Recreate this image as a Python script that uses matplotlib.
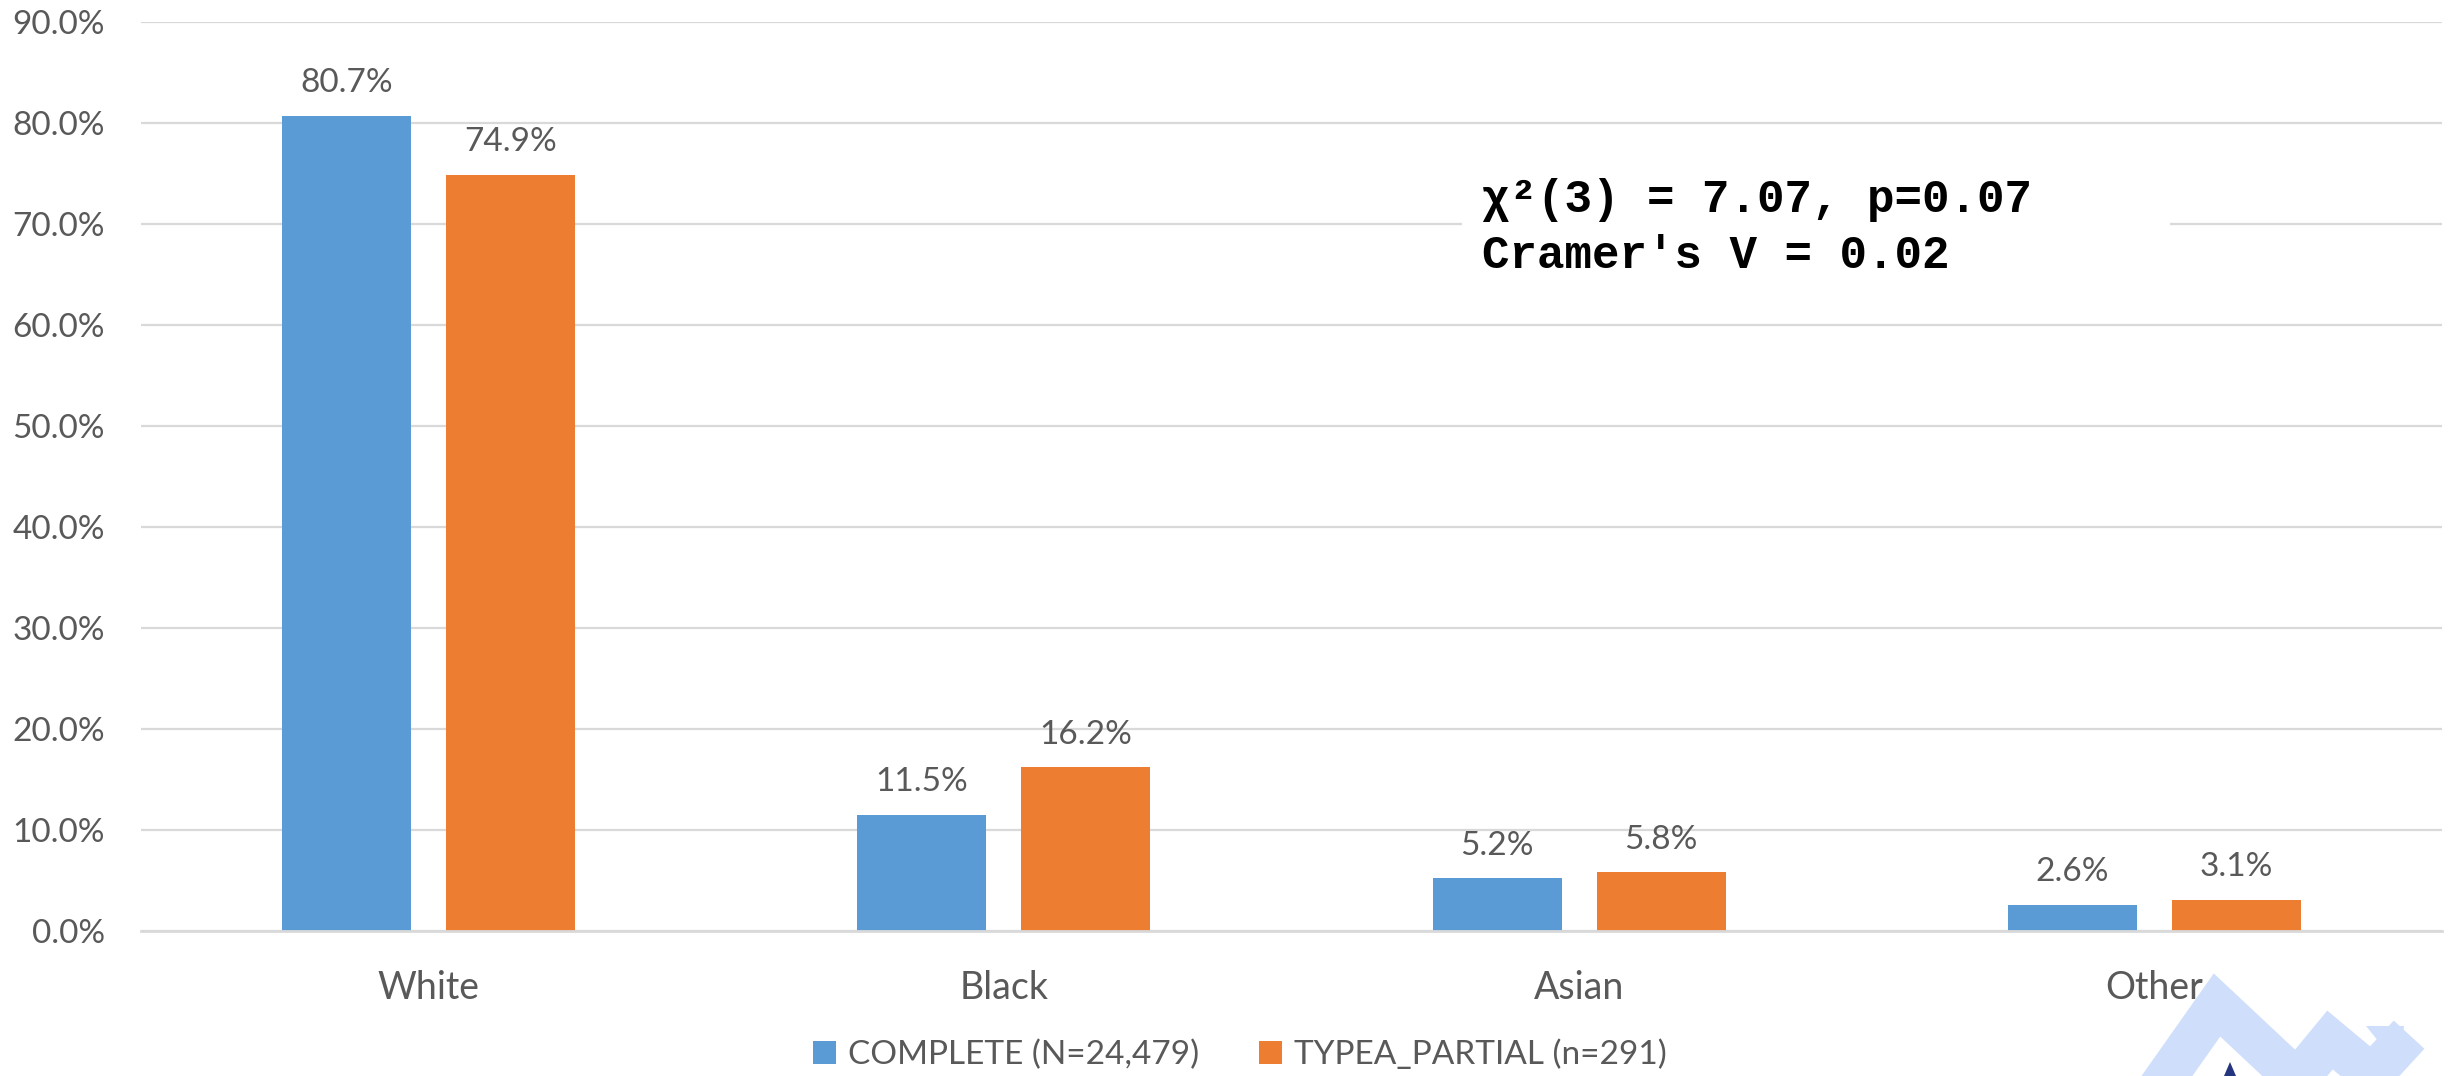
import numpy as np
import matplotlib
matplotlib.use("Agg")
import matplotlib.pyplot as plt
from matplotlib.patches import Rectangle, Polygon
from matplotlib.lines import Line2D

# dados
categorias = ["White", "Black", "Asian", "Other"]
complete = [80.7, 11.5, 5.2, 2.6]
typea_partial = [74.9, 16.2, 5.8, 3.1]
rotulos_series = ["COMPLETE (N=24,479)", "TYPEA_PARTIAL (n=291)"]
texto_stats = "χ²(3) = 7.07, p=0.07\nCramer's V = 0.02"

azul = "#5B9BD5"
laranja = "#ED7D31"
cinza_txt = "#595959"
cinza_grade = "#D9D9D9"

plt.rcParams["font.family"] = ["Lato", "DejaVu Sans"]

W, H = 2450, 1076
fig = plt.figure(figsize=(W / 100, H / 100), dpi=100)
ax = fig.add_axes([141 / W, 1 - 931 / H, (2442 - 141) / W, (931 - 22) / H])

x = np.arange(len(categorias))
larg = 0.224
desl = 0.1426
b1 = ax.bar(x - desl, complete, larg, color=azul, label=rotulos_series[0], zorder=3)
b2 = ax.bar(x + desl, typea_partial, larg, color=laranja, label=rotulos_series[1], zorder=3)

for barras, vals in ((b1, complete), (b2, typea_partial)):
    for r, v in zip(barras, vals):
        ax.annotate(f"{v:.1f}%", (r.get_x() + r.get_width() / 2, v),
                    xytext=(0, 17), textcoords="offset points",
                    ha="center", va="baseline", fontsize=24, color=cinza_txt)

ax.set_xlim(-0.5, len(categorias) - 0.5)
ax.set_ylim(0, 90)
ax.set_yticks(np.arange(0, 91, 10))
ax.set_yticklabels([f"{v:.1f}%" for v in np.arange(0, 91, 10)])
ax.set_xticks(x)
ax.set_xticklabels(categorias)
ax.tick_params(axis="y", length=0, pad=26, labelsize=24, labelcolor=cinza_txt)
ax.tick_params(axis="x", length=0, pad=28, labelsize=27, labelcolor=cinza_txt)
ax.grid(axis="y", color=cinza_grade, linewidth=1.6, zorder=0)
for s in ["top", "right", "left"]:
    ax.spines[s].set_visible(False)
ax.spines["bottom"].set_color(cinza_grade)
ax.spines["bottom"].set_linewidth(2)
ax.spines["bottom"].set_zorder(4)

# caixa branca do texto estatistico
fig.patches.append(Rectangle((1462 / W, 1 - 300 / H), (2170 - 1462) / W, 150 / H,
                             transform=fig.transFigure, facecolor="white",
                             edgecolor="none", zorder=5))
fig.text(1482 / W, 1 - 268 / H, texto_stats, family="Liberation Mono",
         fontweight="bold", fontsize=33, color="black", va="baseline",
         linespacing=1.36, zorder=6)

leg = fig.legend(loc="center", bbox_to_anchor=(0.506, 1 - 1055 / H), ncol=2,
                 frameon=False, fontsize=24, handlelength=0.7, handleheight=0.7,
                 handletextpad=0.35, columnspacing=1.8)
for t in leg.get_texts():
    t.set_color(cinza_txt)

# marca d'agua no canto inferior direito
pts = [(2150, 1100), (2217, 1005), (2297, 1080), (2330, 1040), (2372, 1075), (2395, 1050)]
fig.lines.append(Line2D([p[0] / W for p in pts], [1 - p[1] / H for p in pts],
                        transform=fig.transFigure, color="#CFDFFB", linewidth=30,
                        solid_joinstyle="miter", zorder=1))
seta = [(2366, 1026), (2404, 1026), (2400, 1068)]
fig.patches.append(Polygon([(a / W, 1 - b / H) for a, b in seta], closed=True,
                           transform=fig.transFigure, facecolor="#CFDFFB",
                           edgecolor="none", zorder=1))
tri = [(2224, 1076), (2236, 1076), (2230, 1062)]
fig.patches.append(Polygon([(a / W, 1 - b / H) for a, b in tri], closed=True,
                           transform=fig.transFigure, facecolor="#26357F",
                           edgecolor="none", zorder=2))

fig.savefig("out.png", dpi=100)
